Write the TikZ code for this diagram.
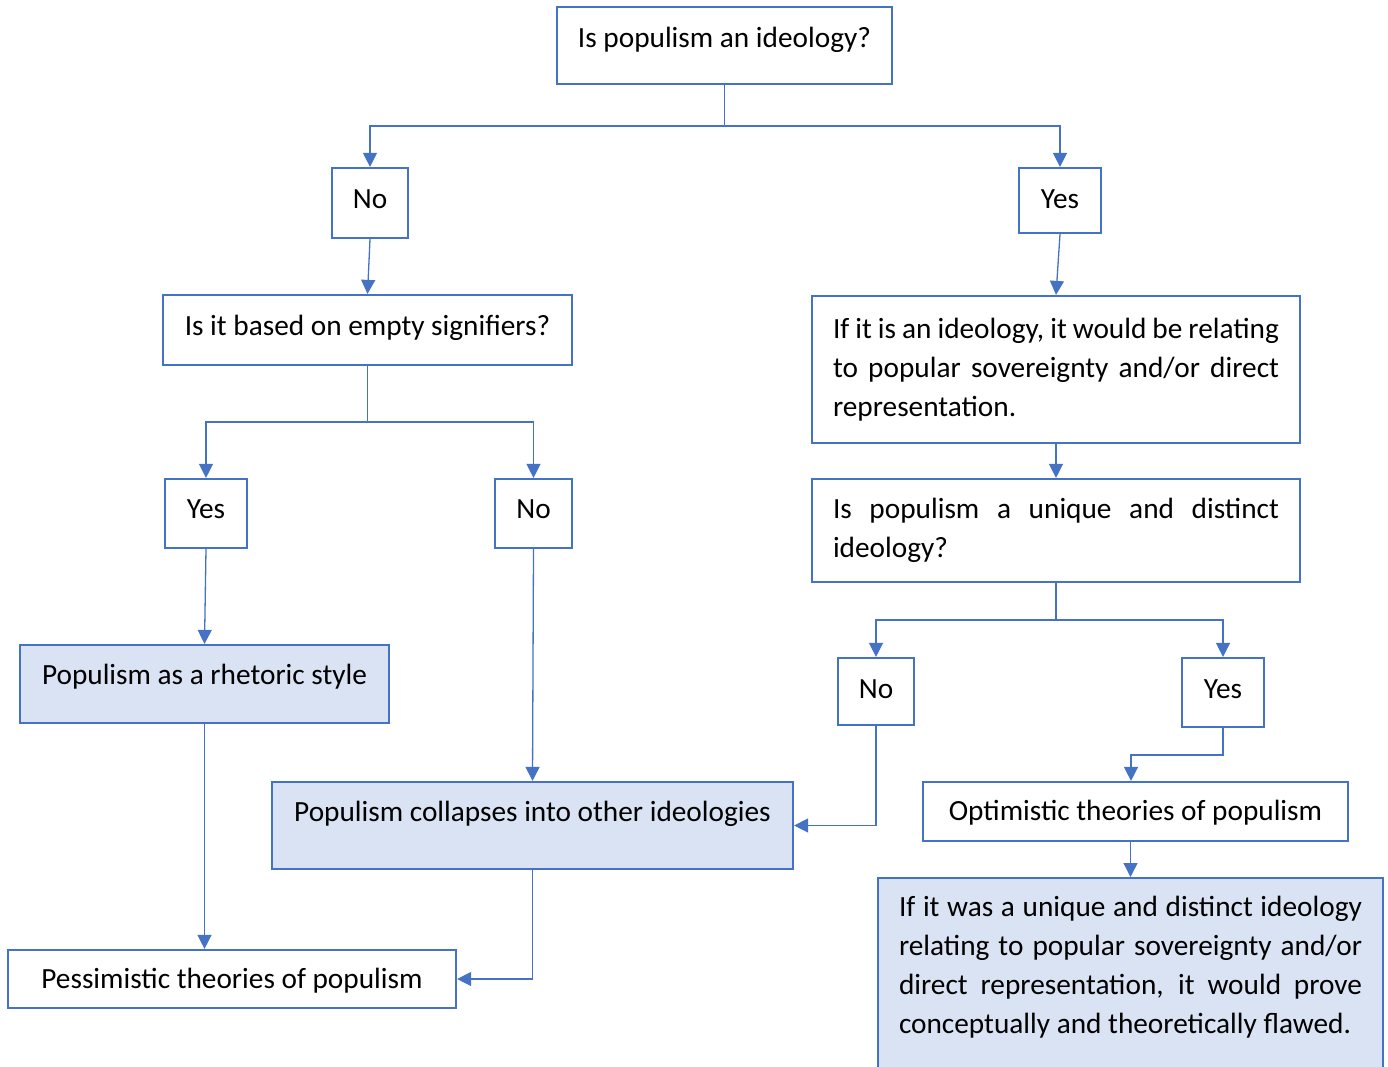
\documentclass[tikz,border=0pt]{standalone}
\usepackage{fontspec}
\setmainfont{Carlito}
\usetikzlibrary{arrows.meta,calc}
\definecolor{bord}{HTML}{4472C4}
\definecolor{fillb}{HTML}{DAE3F3}
\hyphenpenalty=10000
\exhyphenpenalty=10000
\begin{document}
\hyphenpenalty=10000
\exhyphenpenalty=10000
\begin{tikzpicture}[x=1pt,y=-1pt,
  box/.style={draw=bord, line width=2.2pt, inner sep=0pt, font=\fontsize{29.3}{39}\selectfont, text height=20pt, text depth=10pt},
  tbox/.style={draw=bord, line width=2.2pt, inner xsep=21pt, inner ysep=12pt, font=\fontsize{29.3}{39}\selectfont, align=justify},
  filled/.style={fill=fillb},
  ln/.style={draw=bord, line width=1.3pt},
  arr/.style={ln, -{Triangle[length=14pt,width=14pt]}}]
\useasboundingbox (0,0) rectangle (1388,1066);

% nodes
\node[box, minimum width=335pt, minimum height=77pt, text depth=16pt] (q1) at (724.5,45.5) {Is populism an ideology?};
\node[box, minimum width=76pt, minimum height=70pt, text depth=9pt] (no1) at (370,203) {No};
\node[box, minimum width=82pt, minimum height=65pt, text depth=5pt] (yes1) at (1060,200.5) {Yes};
\node[box, minimum width=409pt, minimum height=70pt, text depth=9pt] (q2) at (367.5,330) {Is it based on empty signifiers?};
\node[tbox, text width=446pt, minimum height=147pt] (ideo) at (1056,369.5) {If it is an ideology, it would be relating\linebreak to popular sovereignty and/or direct\linebreak representation.};
\node[tbox, text width=446pt, minimum height=103pt] (uniq) at (1056,530.5) {Is populism a unique and distinct\linebreak ideology?};
\node[box, minimum width=82pt, minimum height=69pt, text depth=10pt] (yes2) at (206,513.5) {Yes};
\node[box, minimum width=77pt, minimum height=69pt, text depth=10pt] (no2) at (533.5,513.5) {No};
\node[box, filled, minimum width=369pt, minimum height=78pt, text depth=19pt] (rhet) at (204.5,684) {Populism as a rhetoric style};
\node[box, filled, minimum width=521pt, minimum height=87pt, text depth=28pt] (coll) at (532.5,825.5) {Populism collapses into other ideologies};
\node[box, minimum width=76pt, minimum height=67pt, text depth=6pt] (no3) at (876,691.5) {No};
\node[box, minimum width=82pt, minimum height=69pt, text depth=8pt] (yes3) at (1223,692.5) {Yes};
\node[box, minimum width=425pt, minimum height=59pt, text depth=2pt] (opt) at (1135.5,811.5) {Optimistic theories of populism};
\node[tbox, filled, text width=463pt, inner ysep=18pt, anchor=north] (final) at (1130.5,877) {If it was a unique and distinct ideology\linebreak relating to popular sovereignty and/or\linebreak direct representation, it would prove\linebreak conceptually and theoretically flawed.\rule[-60pt]{0pt}{60pt}};
\node[box, minimum width=448pt, minimum height=58pt, text depth=2pt] (pess) at (232,979) {Pessimistic theories of populism};

% connectors
\coordinate (b1) at (724.5,126);
\draw[ln] (q1.south) -- (b1);
\draw[arr] (b1) -| (no1.north);
\draw[arr] (b1) -| (yes1.north);
\draw[arr] (no1.south) -- (q2.north);
\draw[arr] (yes1.south) -- (ideo.north);

\coordinate (b2) at (367.5,422);
\draw[ln] (q2.south) -- (b2);
\draw[arr] (b2) -| (yes2.north);
\draw[arr] (b2) -| (no2.north);

\draw[arr] (ideo.south) -- (uniq.north);
\coordinate (b3) at (1056,620);
\draw[ln] (uniq.south) -- (b3);
\draw[arr] (b3) -| (no3.north);
\draw[arr] (b3) -| (yes3.north);

\draw[arr] (yes2.south) -- (rhet.north);
\draw[arr] (no2.south) -- (coll.north);
\draw[arr] (rhet.south) -- (rhet.south |- pess.north);
\draw[arr] (no3.south) |- (coll.east);
\coordinate (c1) at (1131,755);
\draw[arr] (yes3.south) |- (c1) -- (c1 |- opt.north);
\draw[arr] (final.north |- opt.south) -- (final.north);
\draw[arr] (coll.south) |- (pess.east);
\end{tikzpicture}
\end{document}
